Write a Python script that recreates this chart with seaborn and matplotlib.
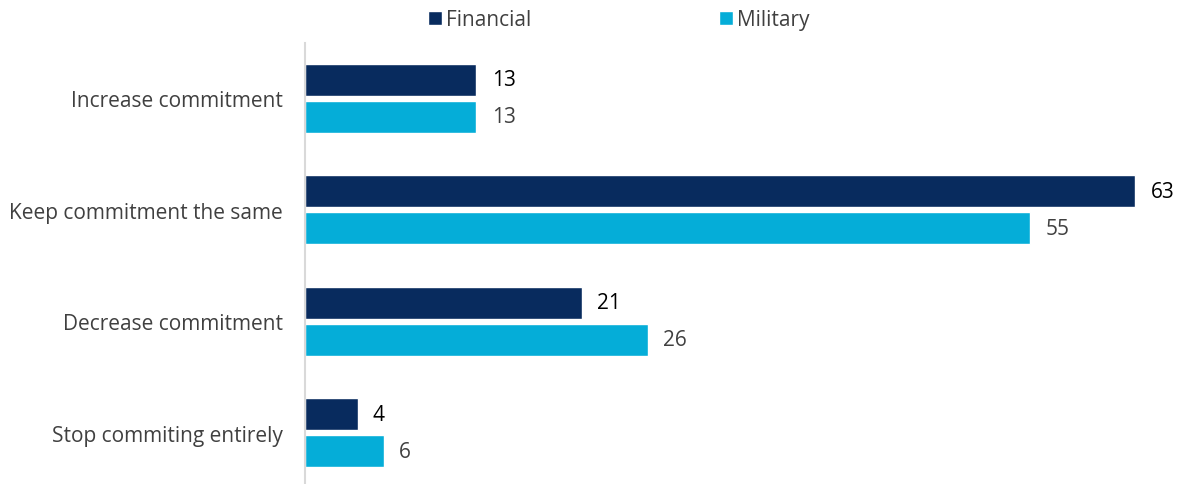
import matplotlib
matplotlib.use("Agg")
import matplotlib.pyplot as plt
from matplotlib.patches import Patch
import seaborn as sns
import pandas as pd

categories = ["Increase commitment", "Keep commitment the same",
              "Decrease commitment", "Stop commiting entirely"]
financial = [13, 63, 21, 4]
military = [13, 55, 26, 6]
series = ["Financial", "Military"]
colors = {"Financial": "#082B5E", "Military": "#05ADD8"}
label_colors = {"Financial": "#000000", "Military": "#404040"}

df = pd.DataFrame({
    "category": categories * 2,
    "value": financial + military,
    "series": ["Financial"] * len(categories) + ["Military"] * len(categories),
})

sns.set_theme(style="white")
plt.rcParams["font.family"] = ["Open Sans", "DejaVu Sans"]

W, H = 1181, 485
left_px, right_px, top_px, bottom_px = 305, 1170, 43.5, 489.5
fig = plt.figure(figsize=(W / 100, H / 100), dpi=100)
ax = fig.add_axes([left_px / W, (H - bottom_px) / H,
                   (right_px - left_px) / W, (bottom_px - top_px) / H])

sns.barplot(data=df, y="category", x="value", hue="series", order=categories,
            hue_order=series, palette=colors, width=0.664, gap=0.135,
            orient="h", ax=ax, legend=False, saturation=1)

for container, name in zip(ax.containers, series):
    ax.bar_label(container, padding=11, fontsize=15, color=label_colors[name])

ax.set_xlim(0, (right_px - left_px) / 13.18)
ax.set_ylim(len(categories) - 0.5, -0.5)
ax.set_xlabel("")
ax.set_ylabel("")
ax.set_xticks([])
ax.tick_params(axis="y", length=0, pad=16, labelsize=15, labelcolor="#404040")
for side in ["top", "right", "bottom"]:
    ax.spines[side].set_visible(False)
ax.spines["left"].set_color("#D9D9D9")
ax.spines["left"].set_linewidth(1.5)

handles = [Patch(facecolor=colors[s], label=s) for s in series]
fig.legend(handles=handles, loc="center", bbox_to_anchor=(0.5237, 1 - 20.5 / H),
           ncol=2, frameon=False, fontsize=15, handlelength=0.67, handleheight=0.67,
           handletextpad=0.2, columnspacing=9.0, labelcolor="#404040")

fig.savefig("out.png", dpi=100)
